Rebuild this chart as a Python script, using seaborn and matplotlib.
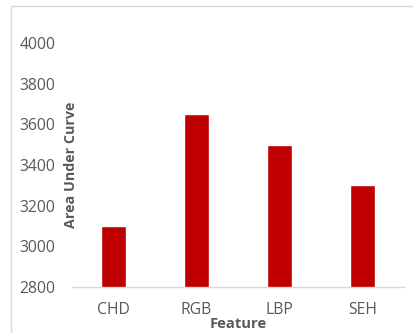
import matplotlib
matplotlib.use("Agg")
import matplotlib.pyplot as plt
from matplotlib.lines import Line2D
import seaborn as sns
import pandas as pd

features = ["CHD", "RGB", "LBP", "SEH"]
auc_values = [3100, 3650, 3500, 3300]
y_ticks = [2800, 3000, 3200, 3400, 3600, 3800, 4000]

sns.set_theme(style="white")
plt.rcParams["font.family"] = ["Open Sans", "DejaVu Sans"]

text_color = "#595959"
bar_color = "#C00000"

df = pd.DataFrame({"Feature": features, "AUC": auc_values})

fig = plt.figure(figsize=(4.14, 3.33), dpi=100)
W, H = 414, 333
ax = fig.add_axes([72 / W, (H - 287) / H, (404 - 72) / W, (287 - 43) / H])

sns.barplot(data=df, x="Feature", y="AUC", color=bar_color, width=0.31,
            saturation=1, ax=ax)

ax.set_xlim(-0.5, 3.5)
ax.set_ylim(2800, 4000)
ax.set_yticks(y_ticks)
ax.set_yticklabels([str(v) for v in y_ticks])

for s in ["top", "right", "left"]:
    ax.spines[s].set_visible(False)
ax.spines["bottom"].set_color("#d9d9d9")
ax.spines["bottom"].set_linewidth(1.0)

ax.tick_params(axis="both", length=0, colors=text_color, labelsize=11.3)
ax.tick_params(axis="y", pad=12)
ax.tick_params(axis="x", pad=11)
for lbl in ax.get_xticklabels() + ax.get_yticklabels():
    lbl.set_color(text_color)

ax.set_xlabel("Feature", fontsize=10.6, fontweight="bold", color=text_color)
ax.set_ylabel("Area Under Curve", fontsize=10.3, fontweight="bold", color=text_color)
ax.xaxis.set_label_coords(0.5, -0.122)
ax.yaxis.set_label_coords(0.018, 0.5)

# chart frame edges
fig.add_artist(Line2D([11 / W, 1.0], [(H - 6) / H, (H - 6) / H],
                      transform=fig.transFigure, color="#d9d9d9", lw=1))
fig.add_artist(Line2D([11 / W, 11 / W], [0, (H - 6) / H],
                      transform=fig.transFigure, color="#d9d9d9", lw=1))

fig.savefig("out.png", dpi=100)
